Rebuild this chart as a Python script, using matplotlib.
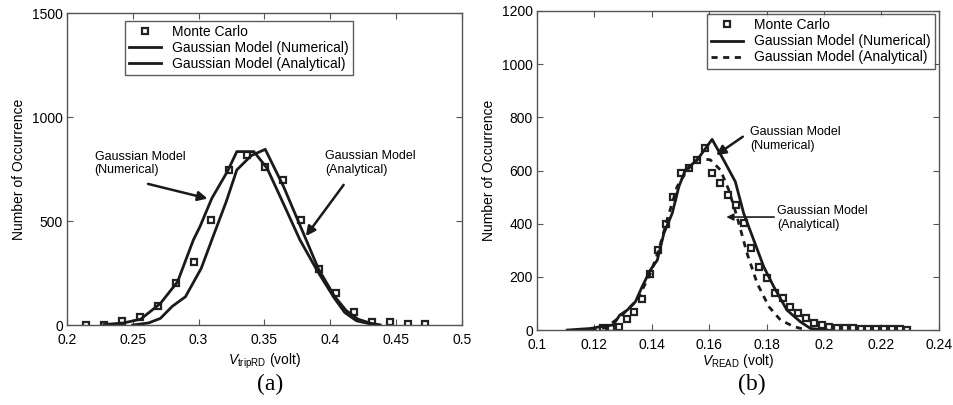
import matplotlib
matplotlib.use('Agg')
import matplotlib.pyplot as plt

plt.rcParams['font.family'] = ['Liberation Sans', 'DejaVu Sans']
plt.rcParams['mathtext.fontset'] = 'custom'
plt.rcParams['mathtext.rm'] = 'Liberation Sans'
plt.rcParams['mathtext.it'] = 'Liberation Sans:italic'

# ---- (a) V_tripRD ----
mc_a_x = [0.2147, 0.2284, 0.2418, 0.2554, 0.2689, 0.2825, 0.2962, 0.3096, 0.3230, 0.3367,
          0.3506, 0.3640, 0.3777, 0.3911, 0.4046, 0.4182, 0.4316, 0.4450, 0.4587, 0.4722]
mc_a_y = [0, 0, 19, 37, 93, 200, 305, 505, 744, 816,
          759, 696, 504, 268, 152, 64, 16, 16, 3, 3]

num_a_x = [0.228, 0.243, 0.256, 0.271, 0.284, 0.296, 0.301, 0.310, 0.322, 0.329, 0.342,
           0.352, 0.362, 0.377, 0.390, 0.403, 0.411, 0.420, 0.430, 0.437]
num_a_y = [2, 10, 28, 104, 208, 409, 473, 609, 740, 834, 834,
           754, 617, 409, 262, 130, 60, 20, 6, 0]

ana_a_x = [0.250, 0.262, 0.271, 0.280, 0.290, 0.302, 0.310, 0.321, 0.329, 0.340, 0.3506,
           0.3645, 0.381, 0.391, 0.403, 0.412, 0.421, 0.431, 0.438]
ana_a_y = [0, 10, 32, 90, 136, 273, 409, 594, 746, 815, 845,
           666, 420, 270, 140, 70, 28, 8, 0]

# ---- (b) V_READ ----
mc_b_x = [0.1230, 0.1257, 0.1284, 0.1312, 0.1339, 0.1366, 0.1393, 0.1421, 0.1448, 0.1475,
          0.1502, 0.1529, 0.1557, 0.1584, 0.1611, 0.1638, 0.1665, 0.1693, 0.1720, 0.1747,
          0.1774, 0.1801, 0.1829, 0.1856, 0.1883, 0.1910, 0.1937, 0.1965, 0.1992, 0.2019,
          0.2046, 0.2073, 0.2100, 0.2128, 0.2155, 0.2182, 0.2209, 0.2236, 0.2264, 0.2291]
mc_b_y = [6, 6, 13, 41, 69, 117, 211, 301, 399, 502,
          592, 608, 640, 683, 589, 552, 508, 470, 401, 307,
          238, 194, 138, 119, 88, 63, 44, 25, 19, 13,
          6, 8, 6, 4, 4, 4, 3, 3, 3, 2]

num_b_x = [0.1105, 0.1186, 0.1232, 0.1265, 0.1288, 0.1314, 0.1343, 0.1366, 0.1395, 0.1419,
           0.1442, 0.1471, 0.1494, 0.1517, 0.1558, 0.1610, 0.1650, 0.1691, 0.1720, 0.1755,
           0.1790, 0.1825, 0.1871, 0.1918, 0.1953, 0.2010]
num_b_y = [0, 6, 15, 19, 56, 75, 107, 163, 226, 263,
           364, 439, 539, 602, 640, 717, 640, 558, 439, 339,
           238, 163, 75, 31, 6, 0]

ana_b_x = [0.1186, 0.1240, 0.1290, 0.1349, 0.1395, 0.1424, 0.1453, 0.1488, 0.1523, 0.1563,
           0.1604, 0.1639, 0.1668, 0.1697, 0.1732, 0.1767, 0.1808, 0.1848, 0.1895, 0.1941]
ana_b_y = [0, 10, 50, 113, 213, 301, 414, 539, 602, 646,
           640, 602, 527, 426, 288, 176, 88, 38, 13, 0]

fig = plt.figure(figsize=(9.54, 4.05), dpi=100)
ax1 = fig.add_axes([0.0702, 0.1975, 0.414, 0.770])
ax2 = fig.add_axes([0.563, 0.185, 0.421, 0.788])

mk = dict(marker='s', ms=5, mfc='white', mec='#222222', mew=1.6, ls='none')
arrow_big = dict(arrowstyle='-|>', color='#1a1a1a', lw=1.8, mutation_scale=14)
arrow_small = dict(arrowstyle='-|>', color='#1a1a1a', lw=1.2, mutation_scale=10)
leg_kw = dict(fontsize=10, frameon=True, fancybox=False, edgecolor='#333333', borderpad=0.3,
              labelspacing=0.15, handlelength=2.3, handletextpad=0.8, borderaxespad=0)

ax1.plot(mc_a_x, mc_a_y, label='Monte Carlo', **mk)
ax1.plot(num_a_x, num_a_y, color='#1a1a1a', lw=2, label='Gaussian Model (Numerical)')
ax1.plot(ana_a_x, ana_a_y, color='#1a1a1a', lw=2, label='Gaussian Model (Analytical)')
ax1.set_xlim(0.2, 0.5)
ax1.set_ylim(0, 1500)
ax1.set_xticks([0.2, 0.25, 0.3, 0.35, 0.4, 0.45, 0.5])
ax1.set_xticklabels(['0.2', '0.25', '0.3', '0.35', '0.4', '0.45', '0.5'])
ax1.set_yticks([0, 500, 1000, 1500])
ax1.set_xlabel(r'$V_{\mathrm{tripRD}}$ (volt)', fontsize=10, labelpad=3)
ax1.set_ylabel('Number of Occurrence', fontsize=10, labelpad=4)
ax1.legend(loc='upper left', bbox_to_anchor=(0.147, 0.975), **leg_kw)
ax1.annotate('', xy=(0.3088, 605), xytext=(0.2595, 682), arrowprops=arrow_big)
ax1.text(0.221, 839, 'Gaussian Model\n(Numerical)', fontsize=9, va='top', ha='left')
ax1.annotate('', xy=(0.3802, 417), xytext=(0.4114, 685), arrowprops=arrow_big)
ax1.text(0.3962, 842, 'Gaussian Model\n(Analytical)', fontsize=9, va='top', ha='left')

ax2.plot(mc_b_x, mc_b_y, label='Monte Carlo', **mk)
ax2.plot(num_b_x, num_b_y, color='#1a1a1a', lw=2, label='Gaussian Model (Numerical)')
ax2.plot(ana_b_x, ana_b_y, color='#1a1a1a', lw=2, ls=(0, (2.2, 2)),
         label='Gaussian Model (Analytical)')
ax2.set_xlim(0.1, 0.24)
ax2.set_ylim(0, 1200)
ax2.set_xticks([0.1, 0.12, 0.14, 0.16, 0.18, 0.2, 0.22, 0.24])
ax2.set_xticklabels(['0.1', '0.12', '0.14', '0.16', '0.18', '0.2', '0.22', '0.24'])
ax2.set_yticks([0, 200, 400, 600, 800, 1000, 1200])
ax2.set_xlabel(r'$V_{\mathrm{READ}}$ (volt)', fontsize=10, labelpad=0)
ax2.set_ylabel('Number of Occurrence', fontsize=10, labelpad=4)
ax2.legend(loc='upper right', bbox_to_anchor=(0.99, 0.99), **leg_kw)
ax2.annotate('', xy=(0.1616, 652), xytext=(0.1725, 733), arrowprops=arrow_big)
ax2.text(0.1742, 767, 'Gaussian Model\n(Numerical)', fontsize=9, va='top', ha='left')
ax2.annotate('', xy=(0.165, 425), xytext=(0.1836, 425), arrowprops=arrow_small)
ax2.text(0.1836, 470, 'Gaussian Model\n(Analytical)', fontsize=9, va='top', ha='left')

for ax in (ax1, ax2):
    ax.tick_params(direction='in', top=True, right=True, labelsize=10, length=4,
                   color='#555555')
    ax.tick_params(axis='x', pad=6)
    ax.tick_params(axis='y', pad=3)
    for s in ax.spines.values():
        s.set_color('#555555')
        s.set_linewidth(1)

fig.text(270 / 954, 1 - 384 / 405, '(a)', family='Liberation Serif', fontsize=17,
         ha='center', va='center')
fig.text(752 / 954, 1 - 384 / 405, '(b)', family='Liberation Serif', fontsize=17,
         ha='center', va='center')

fig.savefig('out.png', dpi=100)
